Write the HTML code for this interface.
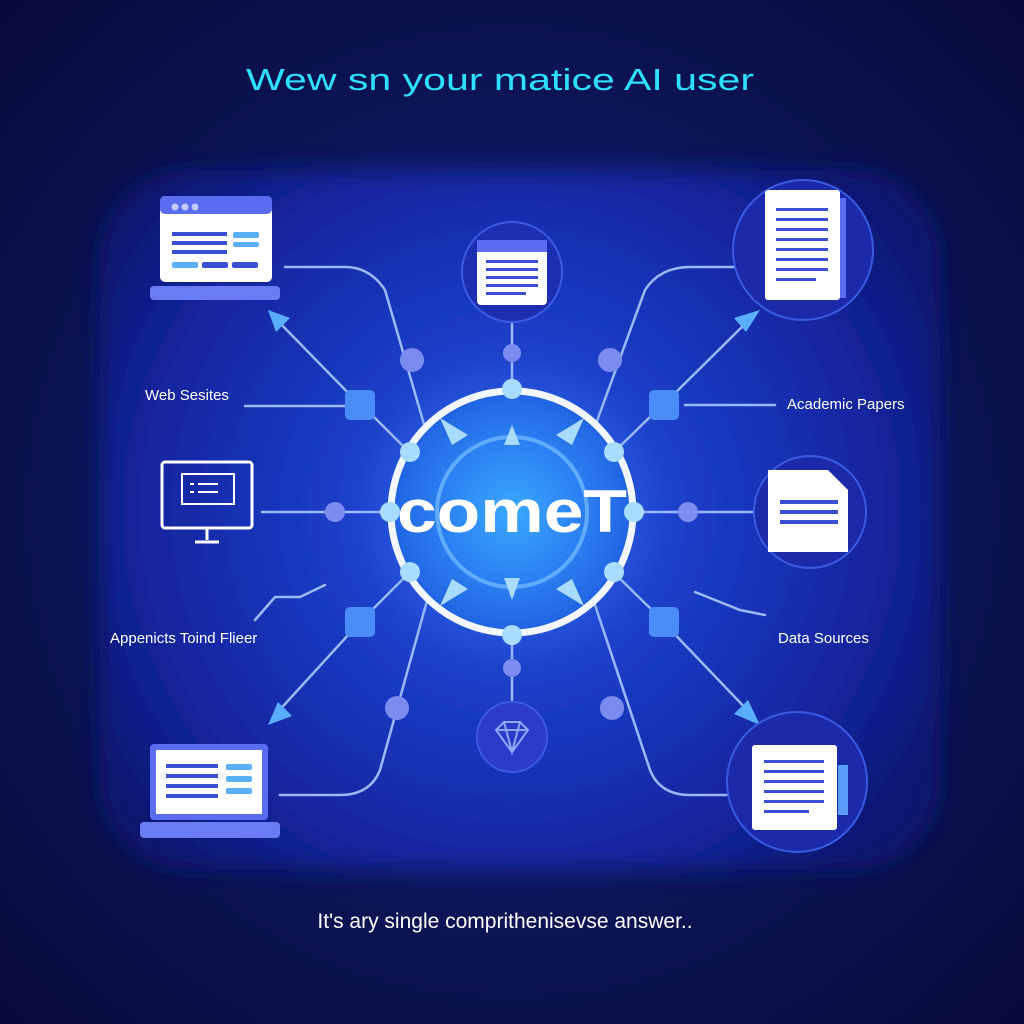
<!DOCTYPE html>
<html><head><meta charset="utf-8"><style>
html,body{margin:0;padding:0;background:#0a0f4d;}
svg{display:block}
text{font-family:"Liberation Sans",sans-serif}
</style></head><body>
<svg width="1024" height="1024" viewBox="0 0 1024 1024" xmlns="http://www.w3.org/2000/svg">
<defs>
<radialGradient id="bg" cx="50%" cy="50%" r="70%">
<stop offset="0" stop-color="#12207a"/><stop offset="1" stop-color="#070b3a"/></radialGradient>
<radialGradient id="panel" cx="512" cy="512" r="480" gradientUnits="userSpaceOnUse">
<stop offset="0" stop-color="#2a6cf0"/><stop offset="0.35" stop-color="#1b3fc8"/><stop offset="0.75" stop-color="#1326a0"/><stop offset="1" stop-color="#0d1770"/></radialGradient>
<radialGradient id="core" cx="512" cy="512" r="125" gradientUnits="userSpaceOnUse">
<stop offset="0" stop-color="#3aa8ff"/><stop offset="0.6" stop-color="#2a7ef0"/><stop offset="1" stop-color="#2060e0"/></radialGradient>
<radialGradient id="glow" cx="50%" cy="50%" r="50%"><stop offset="0" stop-color="#5a7cff" stop-opacity=".5"/><stop offset="1" stop-color="#5a7cff" stop-opacity="0"/></radialGradient>
<filter id="soft" x="-10%" y="-10%" width="120%" height="120%"><feGaussianBlur stdDeviation="12"/></filter>
</defs>
<rect width="1024" height="1024" fill="url(#bg)"/>
<rect x="100" y="170" width="840" height="700" rx="90" fill="url(#panel)" filter="url(#soft)"/>
<text x="500" y="90" font-size="31" fill="#2ee0ff" text-anchor="middle" textLength="508" lengthAdjust="spacingAndGlyphs">Wew sn your matice AI user</text>

<g fill="none" stroke="#a8c8ff" stroke-width="2.5" stroke-linecap="round" opacity=".9">
<path d="M285 267 H345 Q370 267 385 290 L430 445"/>
<path d="M360 405 L275 318"/>
<path d="M245 406 H345"/>
<path d="M512 320 V391"/>
<path d="M770 267 H690 Q660 267 645 290 L590 440"/>
<path d="M663 405 L752 317"/>
<path d="M685 405 H775"/>
<path d="M262 512 H390"/>
<path d="M633 512 H765"/>
<path d="M255 620 L275 597 H300 L325 585"/>
<path d="M695 592 L740 610 L765 615"/>
<path d="M360 622 L275 715"/>
<path d="M663 622 L752 715"/>
<path d="M280 795 H340 Q370 795 380 770 L430 590"/>
<path d="M512 633 V700"/>
<path d="M785 795 H690 Q660 795 650 770 L590 590"/>
<path d="M372 415 L410 453"/><path d="M652 415 L613 453"/>
<path d="M372 610 L410 572"/><path d="M652 610 L613 572"/>
</g>
<g fill="#5aaeff">
<polygon points="268,310 290,318 276,332"/>
<polygon points="760,310 746,332 734,318"/>
<polygon points="268,725 278,702 292,716"/>
<polygon points="760,725 734,714 748,700"/>
</g>
<g fill="#4a8cf8">
<rect x="345" y="390" width="30" height="30" rx="5"/><rect x="649" y="390" width="30" height="30" rx="5"/>
<rect x="345" y="607" width="30" height="30" rx="5"/><rect x="649" y="607" width="30" height="30" rx="5"/>
</g>
<g fill="#7a8cf0">
<circle cx="412" cy="360" r="12"/><circle cx="512" cy="353" r="9"/><circle cx="610" cy="360" r="12"/>
<circle cx="335" cy="512" r="10"/><circle cx="688" cy="512" r="10"/>
<circle cx="397" cy="708" r="12"/><circle cx="512" cy="668" r="9"/><circle cx="612" cy="708" r="12"/>
</g>

<circle cx="512" cy="512" r="160" fill="url(#glow)"/>
<circle cx="512" cy="512" r="121" fill="url(#core)" stroke="#f2f6ff" stroke-width="7"/>
<circle cx="512" cy="512" r="75" fill="none" stroke="#6ab8ff" stroke-width="4" opacity=".8"/>
<g fill="#a8dcff">
<circle cx="512" cy="389" r="10"/><circle cx="512" cy="635" r="10"/>
<circle cx="410" cy="452" r="10"/><circle cx="614" cy="452" r="10"/>
<circle cx="410" cy="572" r="10"/><circle cx="614" cy="572" r="10"/>
<circle cx="390" cy="512" r="10"/><circle cx="634" cy="512" r="10"/>
<polygon points="512,425 504,445 520,445"/><polygon points="512,600 504,578 520,578"/>
<polygon points="440,418 468,435 452,445"/><polygon points="584,418 556,435 572,445"/>
<polygon points="440,606 468,589 452,579"/><polygon points="584,606 556,589 572,579"/>
</g>
<text x="512" y="532" font-size="60" font-weight="bold" fill="#fff" text-anchor="middle" textLength="230" lengthAdjust="spacingAndGlyphs">comeT</text>

<!-- TL laptop -->
<rect x="160" y="196" width="112" height="86" rx="5" fill="#fff"/>
<rect x="160" y="196" width="112" height="18" rx="5" fill="#5a6cf0"/>
<circle cx="175" cy="207" r="3.5" fill="#c0ccff"/><circle cx="185" cy="207" r="3.5" fill="#c0ccff"/><circle cx="195" cy="207" r="3.5" fill="#c0ccff"/>
<g fill="#3a4ed8"><rect x="172" y="232" width="55" height="4"/><rect x="172" y="241" width="55" height="4"/><rect x="172" y="250" width="55" height="4"/><rect x="202" y="262" width="26" height="6" rx="2"/><rect x="232" y="262" width="26" height="6" rx="2"/></g>
<g fill="#5ab0f8"><rect x="233" y="232" width="26" height="6" rx="2"/><rect x="233" y="242" width="26" height="5" rx="2"/><rect x="172" y="262" width="26" height="6" rx="2"/></g>
<rect x="150" y="286" width="130" height="14" rx="4" fill="#6a7cf4"/>
<!-- calendar -->
<circle cx="512" cy="272" r="50" fill="#1b2fb0" stroke="#3a5ae0" stroke-width="2"/>
<rect x="477" y="240" width="70" height="65" rx="4" fill="#fff"/><rect x="477" y="240" width="70" height="12" fill="#5a6cf0"/>
<g fill="#3a4ed8"><rect x="486" y="260" width="52" height="3"/><rect x="486" y="268" width="52" height="3"/><rect x="486" y="276" width="52" height="3"/><rect x="486" y="284" width="52" height="3"/><rect x="486" y="292" width="40" height="3"/></g>
<!-- TR doc -->
<circle cx="803" cy="250" r="70" fill="#1a2aa8" stroke="#3a5ae0" stroke-width="2"/>
<rect x="830" y="198" width="16" height="100" fill="#5a6cf0"/>
<rect x="765" y="190" width="75" height="110" rx="3" fill="#fff"/>
<g fill="#3a4ed8"><rect x="776" y="208" width="52" height="3"/><rect x="776" y="218" width="52" height="3"/><rect x="776" y="228" width="52" height="3"/><rect x="776" y="238" width="52" height="3"/><rect x="776" y="248" width="52" height="3"/><rect x="776" y="258" width="52" height="3"/><rect x="776" y="268" width="52" height="3"/><rect x="776" y="278" width="40" height="3"/></g>
<!-- monitor -->
<rect x="162" y="462" width="90" height="66" rx="3" fill="none" stroke="#fff" stroke-width="3"/>
<rect x="182" y="474" width="52" height="30" fill="none" stroke="#fff" stroke-width="2"/>
<path d="M190 484h4 M198 484h20 M190 492h4 M198 492h20" stroke="#fff" stroke-width="2"/>
<path d="M207 528 v12 M195 542 h24" stroke="#fff" stroke-width="3"/>
<!-- right doc -->
<circle cx="810" cy="512" r="56" fill="#1a2aa8" stroke="#3a5ae0" stroke-width="2"/>
<path d="M768 470 H828 L848 490 V552 H768 Z" fill="#fff"/>
<g fill="#3a4ed8"><rect x="780" y="500" width="58" height="4"/><rect x="780" y="510" width="58" height="4"/><rect x="780" y="520" width="58" height="4"/></g>
<!-- BL laptop -->
<rect x="150" y="744" width="118" height="76" rx="4" fill="#5a6cf0"/>
<rect x="156" y="750" width="106" height="64" fill="#fff"/>
<g fill="#3a4ed8"><rect x="166" y="764" width="52" height="4"/><rect x="166" y="774" width="52" height="4"/><rect x="166" y="784" width="52" height="4"/><rect x="166" y="794" width="52" height="4"/></g>
<g fill="#5ab0f8"><rect x="226" y="764" width="26" height="6" rx="2"/><rect x="226" y="776" width="26" height="6" rx="2"/><rect x="226" y="788" width="26" height="6" rx="2"/></g>
<rect x="140" y="822" width="140" height="16" rx="4" fill="#6a7cf4"/>
<!-- diamond -->
<circle cx="512" cy="737" r="35" fill="#2a3cc8" stroke="#3a5ae0" stroke-width="2"/>
<path d="M496 730 L504 722 H520 L528 730 L512 752 Z M496 730 H528 M504 722 L512 752 L520 722" fill="none" stroke="#8aa8ff" stroke-width="2"/>
<!-- BR doc -->
<circle cx="797" cy="782" r="70" fill="#1a2aa8" stroke="#3a5ae0" stroke-width="2"/>
<rect x="838" y="765" width="10" height="50" fill="#5a9cf8"/>
<rect x="752" y="745" width="85" height="85" rx="3" fill="#fff"/>
<g fill="#3a4ed8"><rect x="764" y="760" width="60" height="3"/><rect x="764" y="770" width="60" height="3"/><rect x="764" y="780" width="60" height="3"/><rect x="764" y="790" width="60" height="3"/><rect x="764" y="800" width="60" height="3"/><rect x="764" y="810" width="45" height="3"/></g>

<g font-size="15" fill="#fff">
<text x="145" y="400">Web Sesites</text>
<text x="787" y="409">Academic Papers</text>
<text x="110" y="643">Appenicts Toind Flieer</text>
<text x="778" y="643">Data Sources</text>
</g>
<text x="505" y="928" font-size="21" fill="#fff" text-anchor="middle">It's ary single comprithenisevse answer..</text>
</svg>
</body></html>
